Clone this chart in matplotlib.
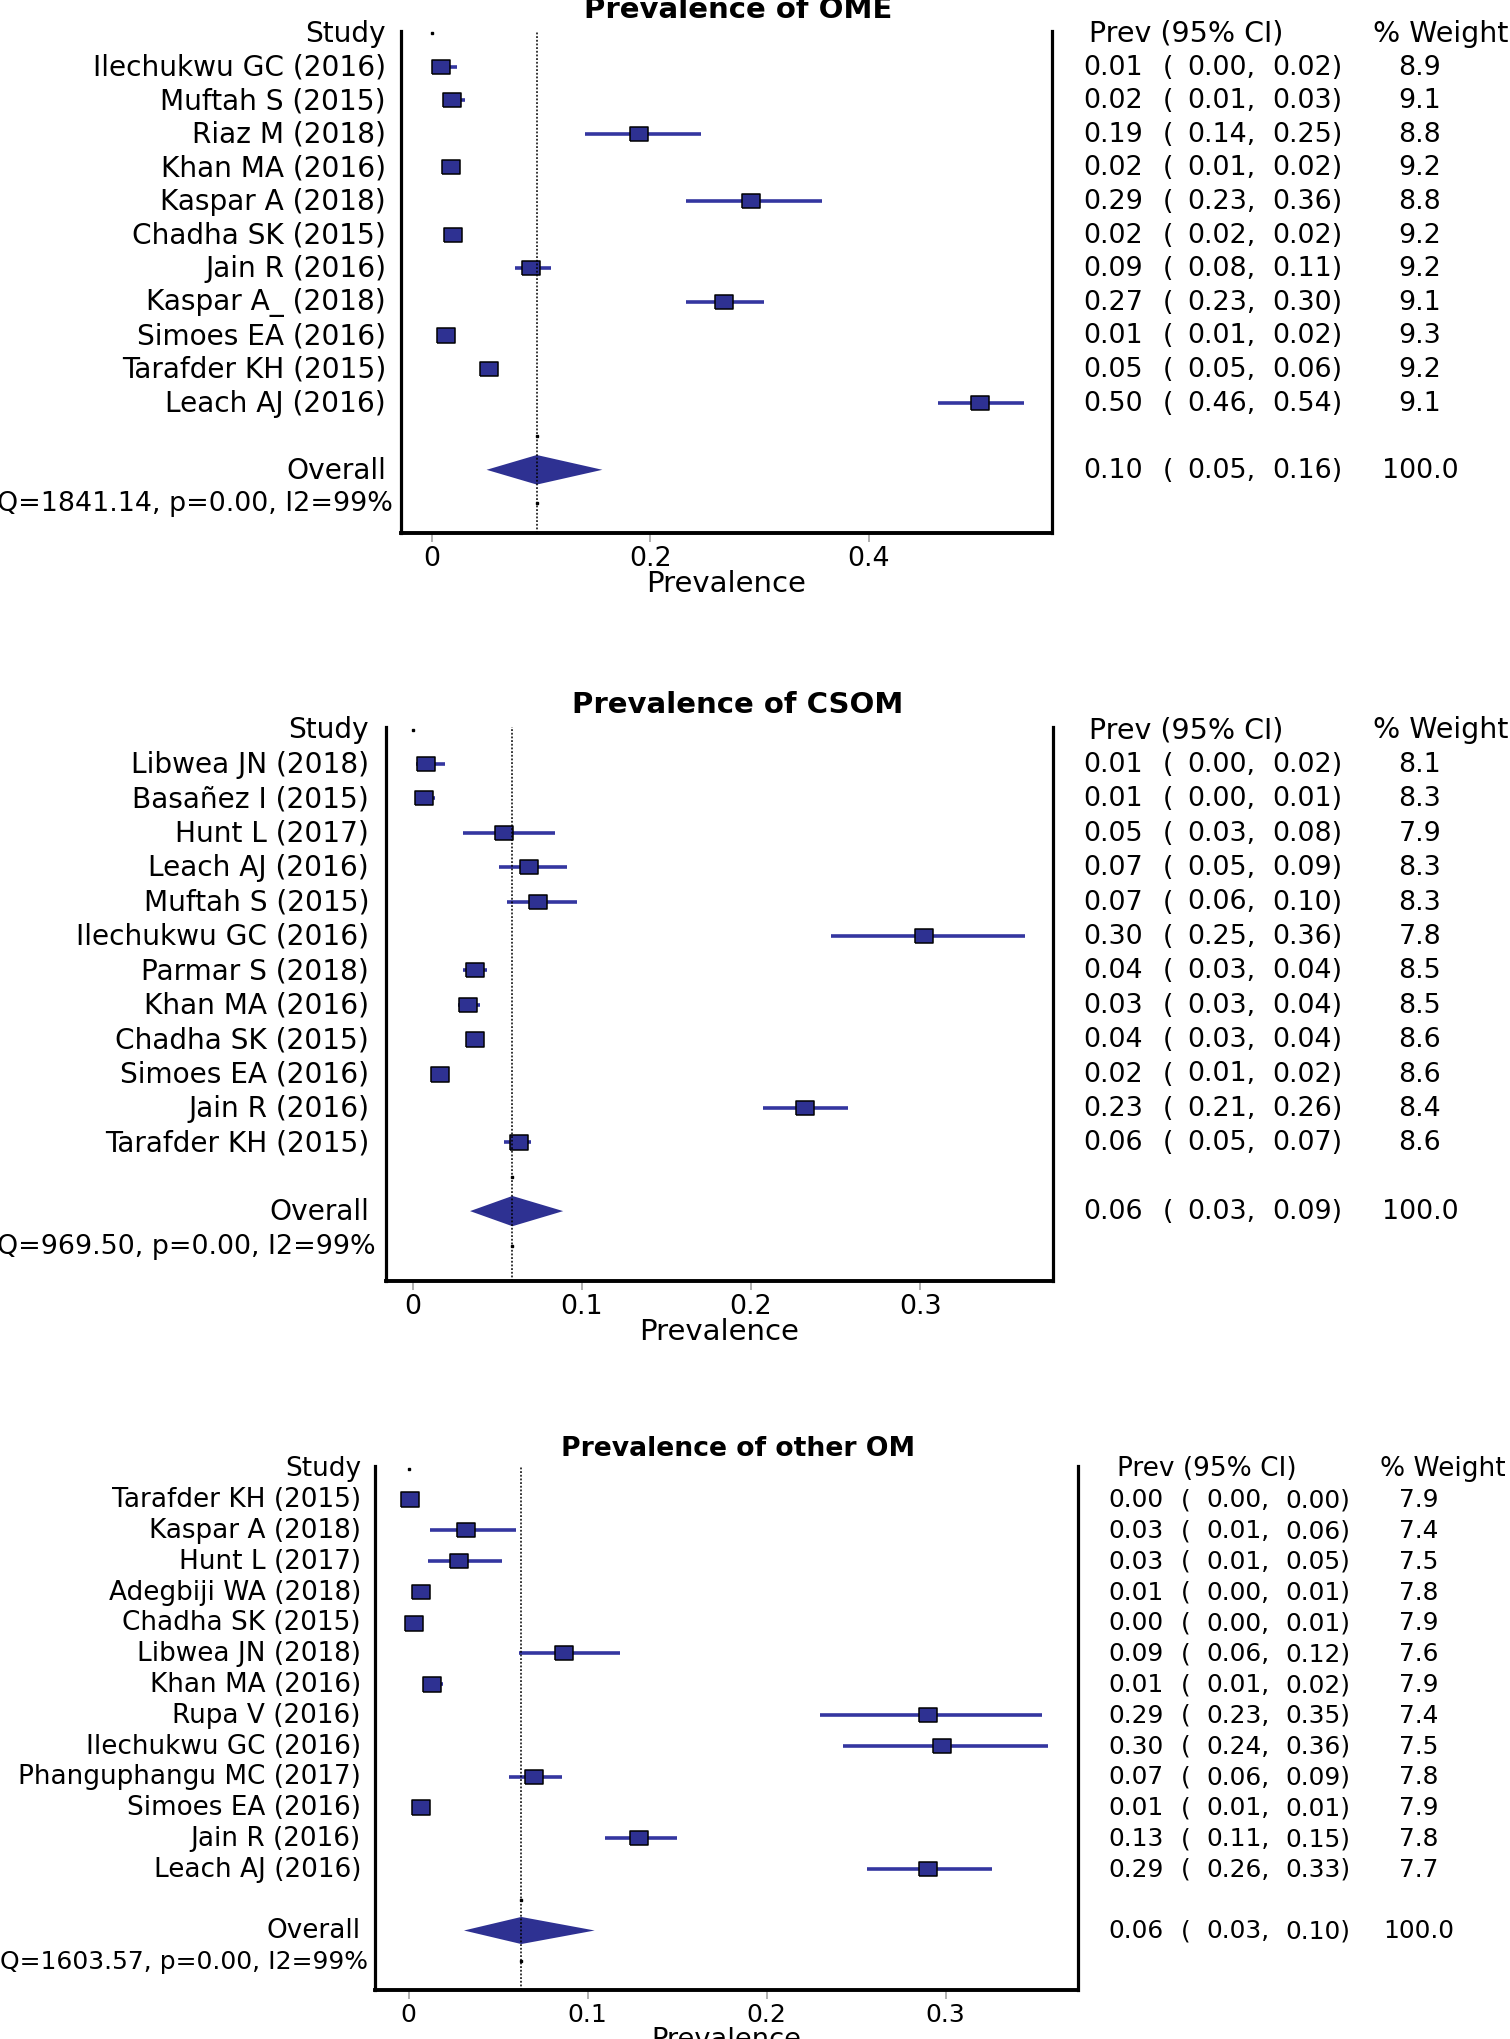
import numpy as np
import matplotlib
matplotlib.use("Agg")
import matplotlib.pyplot as plt
from matplotlib import transforms
from matplotlib.ticker import FuncFormatter

plt.rcParams['font.family'] = ['DejaVu Sans']

# ---------------- data ----------------
ome_studies = ["Ilechukwu GC (2016)", "Muftah S (2015)", "Riaz M (2018)", "Khan MA (2016)",
               "Kaspar A (2018)", "Chadha SK (2015)", "Jain R (2016)", "Kaspar A_ (2018)",
               "Simoes EA (2016)", "Tarafder KH (2015)", "Leach AJ (2016)"]
ome_prev = [0.008, 0.018, 0.190, 0.017, 0.292, 0.019, 0.091, 0.267, 0.013, 0.052, 0.502]
ome_lo = [0.002, 0.010, 0.140, 0.013, 0.233, 0.016, 0.076, 0.233, 0.011, 0.047, 0.463]
ome_hi = [0.023, 0.030, 0.246, 0.021, 0.357, 0.021, 0.109, 0.304, 0.016, 0.059, 0.542]
ome_weight = [8.9, 9.1, 8.8, 9.2, 8.8, 9.2, 9.2, 9.1, 9.3, 9.2, 9.1]
ome_overall = [0.096, 0.050, 0.156]
ome_het = [1841.14, 0.00, 99]

csom_studies = ["Libwea JN (2018)", "Basañez I (2015)", "Hunt L (2017)", "Leach AJ (2016)",
                "Muftah S (2015)", "Ilechukwu GC (2016)", "Parmar S (2018)", "Khan MA (2016)",
                "Chadha SK (2015)", "Simoes EA (2016)", "Jain R (2016)", "Tarafder KH (2015)"]
csom_prev = [0.008, 0.0065, 0.054, 0.069, 0.074, 0.302, 0.037, 0.033, 0.037, 0.016, 0.232, 0.063]
csom_lo = [0.002, 0.002, 0.030, 0.051, 0.056, 0.247, 0.030, 0.027, 0.033, 0.013, 0.207, 0.054]
csom_hi = [0.019, 0.013, 0.084, 0.091, 0.097, 0.362, 0.044, 0.040, 0.042, 0.019, 0.257, 0.070]
csom_weight = [8.1, 8.3, 7.9, 8.3, 8.3, 7.8, 8.5, 8.5, 8.6, 8.6, 8.4, 8.6]
csom_overall = [0.059, 0.034, 0.089]
csom_het = [969.50, 0.00, 99]

oth_studies = ["Tarafder KH (2015)", "Kaspar A (2018)", "Hunt L (2017)", "Adegbiji WA (2018)",
               "Chadha SK (2015)", "Libwea JN (2018)", "Khan MA (2016)", "Rupa V (2016)",
               "Ilechukwu GC (2016)", "Phanguphangu MC (2017)", "Simoes EA (2016)",
               "Jain R (2016)", "Leach AJ (2016)"]
oth_prev = [0.001, 0.032, 0.028, 0.007, 0.003, 0.087, 0.013, 0.290, 0.298, 0.070, 0.007, 0.129, 0.290]
oth_lo = [0.000, 0.012, 0.011, 0.002, 0.001, 0.062, 0.008, 0.230, 0.243, 0.056, 0.006, 0.110, 0.256]
oth_hi = [0.003, 0.060, 0.052, 0.011, 0.006, 0.118, 0.019, 0.354, 0.357, 0.086, 0.009, 0.150, 0.326]
oth_weight = [7.9, 7.4, 7.5, 7.8, 7.9, 7.6, 7.9, 7.4, 7.5, 7.8, 7.9, 7.8, 7.7]
oth_overall = [0.063, 0.031, 0.104]
oth_het = [1603.57, 0.00, 99]

titles = ["Prevalence of OME", "Prevalence of CSOM", "Prevalence of other OM"]
xticks_list = [[0, 0.2, 0.4], [0, 0.1, 0.2, 0.3], [0, 0.1, 0.2, 0.3]]

# ---------------- layout (pixels) ----------------
W, H = 1510, 2040
fig = plt.figure(figsize=(W / 100, H / 100), dpi=100)
fig.patch.set_facecolor('white')

FILL = '#2E3192'
CI_COL = '#3436A0'

panels = [
    dict(title=titles[0], studies=ome_studies, prev=ome_prev, lo=ome_lo, hi=ome_hi,
         w=ome_weight, overall=ome_overall, het=ome_het, ticks=xticks_list[0],
         box=(401, 1052, 32, 534), x0=432, xs=1092, y0=34, sp=33.6,
         lab_x=386, q_x=393, c_prev=1083, c_par=1163, c_lo=1187, c_hi=1272, c_w=1420,
         h_prev=1186, h_w=1441, title_y=18, fs=20.2, fs_q=19.4, fs_tick=19.4, fs_xl=21,
         fs_num=19.4, fs_hdr=20.5, fs_t=21, lpad=-1.2),
    dict(title=titles[1], studies=csom_studies, prev=csom_prev, lo=csom_lo, hi=csom_hi,
         w=csom_weight, overall=csom_overall, het=csom_het, ticks=xticks_list[1],
         box=(385.5, 1053, 728, 1282), x0=412.5, xs=1693, y0=730.5, sp=34.4,
         lab_x=369, q_x=376, c_prev=1083, c_par=1163, c_lo=1187, c_hi=1272, c_w=1420,
         h_prev=1186, h_w=1441, title_y=713, fs=20.2, fs_q=19.4, fs_tick=19.4, fs_xl=21,
         fs_num=19.4, fs_hdr=20.5, fs_t=21, lpad=-1.6),
    dict(title=titles[2], studies=oth_studies, prev=oth_prev, lo=oth_lo, hi=oth_hi,
         w=oth_weight, overall=oth_overall, het=oth_het, ticks=xticks_list[2],
         box=(375, 1078, 1467, 1991), x0=408.5, xs=1790, y0=1469.5, sp=30.8,
         lab_x=361, q_x=368, c_prev=1108, c_par=1181, c_lo=1206, c_hi=1285, c_w=1419,
         h_prev=1207, h_w=1443, title_y=1456, fs=18.9, fs_q=18.0, fs_tick=18.0, fs_xl=19.6,
         fs_num=17.9, fs_hdr=19.0, fs_t=19.2, lpad=0.0),
]

rect = [(-1, -0.8), (1, -0.8), (1, 0.8), (-1, 0.8), (-1, -0.8)]


def draw(p):
    L, R, T, B = p['box']
    ax = fig.add_axes([L / W, 1 - B / H, (R - L) / W, (B - T) / H])
    ax.set_xlim((L - p['x0']) / p['xs'], (R - p['x0']) / p['xs'])
    ax.set_ylim((B - p['y0']) / p['sp'], (T - p['y0']) / p['sp'])
    n = len(p['studies'])
    rows = np.arange(1, n + 1)
    r_blank, r_over, r_q = n + 1, n + 2, n + 3

    ax.hlines(rows, p['lo'], p['hi'], color=CI_COL, lw=2.6, zorder=2)
    wmax = max(p['w'])
    for r, e, wt in zip(rows, p['prev'], p['w']):
        ax.plot([e], [r], ls='none', marker=rect, ms=13.5 * np.sqrt(wt / wmax),
                mfc=FILL, mec='black', mew=1.1, zorder=3)
    est, olo, ohi = p['overall']
    h = 0.44
    ax.fill([olo, est, ohi, est], [r_over, r_over - h, r_over, r_over + h],
            color=FILL, lw=0, zorder=3)
    ax.axvline(est, color='black', ls=(0, (1.2, 1.2)), lw=1.1, zorder=5)
    ax.plot([0], [0], ls='none', marker='s', ms=1.8, color='black', zorder=4)
    ax.plot([est, est], [r_blank, r_q], ls='none', marker='s', ms=2.0, color='black', zorder=6)

    ax.spines['top'].set_visible(False)
    for s in ['left', 'right']:
        ax.spines[s].set_linewidth(2.3)
    ax.spines['bottom'].set_linewidth(2.8)
    ax.set_yticks([])
    ax.set_xticks(p['ticks'])
    ax.xaxis.set_major_formatter(FuncFormatter(lambda v, pos: '0' if abs(v) < 1e-9 else f'{v:g}'))
    ax.tick_params(axis='x', length=6.5, width=1.4, color='#b0b0b0', pad=2,
                   labelsize=p['fs_tick'])
    ax.set_xlabel('Prevalence', fontsize=p['fs_xl'], labelpad=p['lpad'])

    tr = transforms.blended_transform_factory(fig.transFigure, ax.transData)

    def t(xpx, r, s, ha='left', fs=None, **kw):
        ax.text(xpx / W, r, s, transform=tr, ha=ha, va='center', clip_on=False,
                fontsize=fs if fs else p['fs'], **kw)

    # left column
    t(p['lab_x'], 0, 'Study', ha='right')
    for r, s in zip(rows, p['studies']):
        t(p['lab_x'], r, s, ha='right')
    t(p['lab_x'], r_over, 'Overall', ha='right')
    Q, pv, I2 = p['het']
    t(p['q_x'], r_q, f"Q={Q:.2f}, p={pv:.2f}, I2={I2:d}%", ha='right', fs=p['fs_q'])

    # right columns
    t(p['h_prev'], 0, 'Prev (95% CI)', ha='center', fs=p['fs_hdr'])
    t(p['h_w'], 0, '% Weight', ha='center', fs=p['fs_hdr'])
    vals = list(zip(p['prev'], p['lo'], p['hi'], p['w']))
    for r, (e, lo, hi, wt) in zip(rows, vals):
        t(p['c_prev'], r, f"{e:.2f}", fs=p['fs_num'])
        t(p['c_par'], r, "(", fs=p['fs_num'])
        t(p['c_lo'], r, f"{lo:.2f},", fs=p['fs_num'])
        t(p['c_hi'], r, f"{hi:.2f})", fs=p['fs_num'])
        t(p['c_w'], r, f"{wt:.1f}", ha='center', fs=p['fs_num'])
    t(p['c_prev'], r_over, f"{est:.2f}", fs=p['fs_num'])
    t(p['c_par'], r_over, "(", fs=p['fs_num'])
    t(p['c_lo'], r_over, f"{olo:.2f},", fs=p['fs_num'])
    t(p['c_hi'], r_over, f"{ohi:.2f})", fs=p['fs_num'])
    t(p['c_w'], r_over, f"{sum(p['w']) / sum(p['w']) * 100:.1f}", ha='center', fs=p['fs_num'])

    fig.text(738 / W, 1 - p['title_y'] / H, p['title'], ha='center', va='baseline',
             fontsize=p['fs_t'], fontweight='bold')


for p in panels:
    draw(p)

fig.savefig('out.png', dpi=100, facecolor='white')
